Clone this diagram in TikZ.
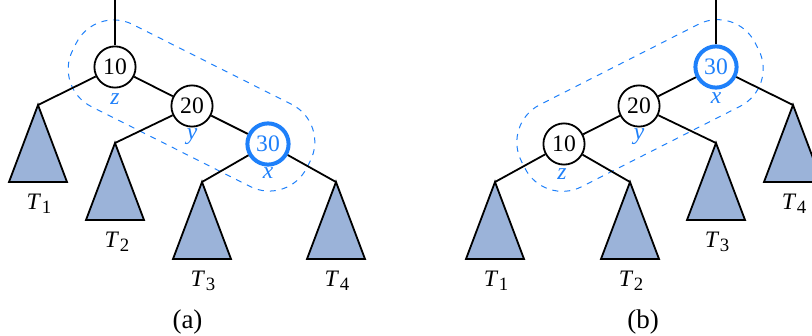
\documentclass[tikz,border=0pt]{standalone}
\usepackage{fontspec}
\setmainfont{Liberation Serif}
\definecolor{xblue}{RGB}{30,128,250}
\definecolor{trifill}{RGB}{155,179,217}
\newcommand{\Tsub}[1]{\textit{T}\kern0.3pt\raisebox{-2.2pt}{\fontsize{9.4}{10}\selectfont #1}}
\begin{document}
\begin{tikzpicture}[x=0.5pt,y=-0.5pt,
  font=\fontsize{11.8}{13}\selectfont,
  nd/.style={circle, draw, line width=0.9pt, minimum size=20.6pt, inner sep=0pt, fill=white},
  hot/.style={nd, draw=xblue, line width=2pt, text=xblue},
  edge/.style={line width=0.9pt},
  tri/.style={draw, line width=0.9pt, fill=trifill, line join=miter},
  lab/.style={text=xblue, font=\fontsize{11.8}{13}\selectfont\itshape, inner sep=0pt},
  tl/.style={inner sep=0pt},
  captxt/.style={inner sep=0pt, font=\fontsize{13.5}{15}\selectfont},
  grp/.style={draw=xblue, dashed, line width=0.5pt, rounded corners=21pt,
    minimum width=131pt, minimum height=46pt, inner sep=0pt}]
\useasboundingbox (0,0) rectangle (812,336);
\clip (0,0) rectangle (812,336);

% ---------- (a) ----------
\node[grp, rotate=-26.7] (ga) at (191.5,105.5) {};
\coordinate (atop) at (115,0);
\coordinate (a1) at (38,105);
\coordinate (a2) at (115,143);
\coordinate (a3) at (202,182);
\coordinate (a4) at (336,182);
\foreach \p in {a1,a2,a3,a4} \draw[tri] (\p) -- ++(-29,77) -- ++(58,0) -- cycle;
\node[nd] (a10) at (115,67) {10};
\node[nd] (a20) at (192,106) {20};
\node[hot] (a30) at (268,144) {30};
\draw[edge] (atop) -- (a10);
\draw[edge] (a10) -- (a1);
\draw[edge] (a10) -- (a20);
\draw[edge] (a20) -- (a2);
\draw[edge] (a20) -- (a30);
\draw[edge] (a30) -- (a3);
\draw[edge] (a30) -- (a4);
\node[lab] (az) at (115,99) {z};
\node[lab] (ay) at (192,137) {y};
\node[lab] (ax) at (268,173) {x};
\node[tl] (aT1) at (39,204) {\Tsub{1}};
\node[tl] (aT2) at (117,242) {\Tsub{2}};
\node[tl] (aT3) at (203,281) {\Tsub{3}};
\node[tl] (aT4) at (337,281) {\Tsub{4}};
\node[captxt] (acap) at (187.5,322) {(a)};

% ---------- (b) ----------
\node[grp, rotate=26.9] (gb) at (640,105.5) {};
\coordinate (btop) at (716,0);
\coordinate (b1) at (495,182);
\coordinate (b2) at (630,182);
\coordinate (b3) at (716,143);
\coordinate (b4) at (793,105);
\foreach \p in {b1,b2,b3,b4} \draw[tri] (\p) -- ++(-29,77) -- ++(58,0) -- cycle;
\node[hot] (b30) at (716,67) {30};
\node[nd] (b20) at (639,106) {20};
\node[nd] (b10) at (564,144) {10};
\draw[edge] (btop) -- (b30);
\draw[edge] (b30) -- (b4);
\draw[edge] (b30) -- (b20);
\draw[edge] (b20) -- (b3);
\draw[edge] (b20) -- (b10);
\draw[edge] (b10) -- (b1);
\draw[edge] (b10) -- (b2);
\node[lab] (bx) at (716,98) {x};
\node[lab] (by) at (639,137) {y};
\node[lab] (bz) at (562,174) {z};
\node[tl] (bT1) at (496,281) {\Tsub{1}};
\node[tl] (bT2) at (631,281) {\Tsub{2}};
\node[tl] (bT3) at (717,242) {\Tsub{3}};
\node[tl] (bT4) at (794,204) {\Tsub{4}};
\node[captxt] (bcap) at (643,322) {(b)};
\end{tikzpicture}
\end{document}
